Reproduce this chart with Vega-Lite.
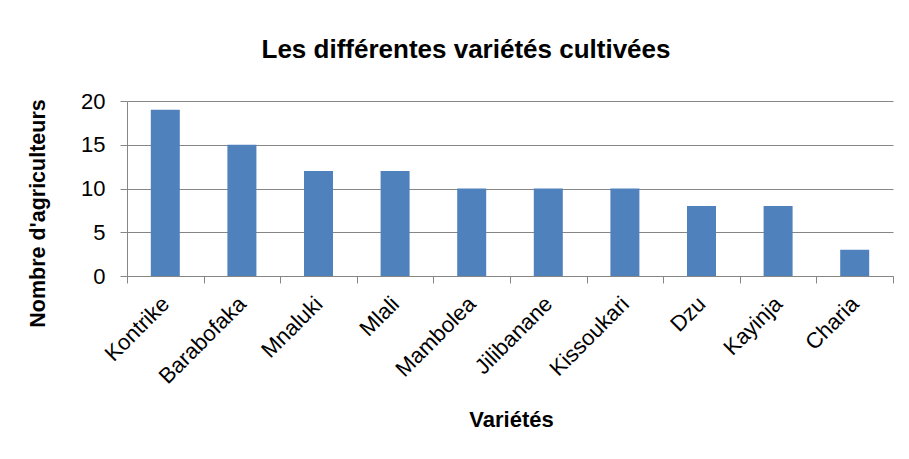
{
  "$schema": "https://vega.github.io/schema/vega-lite/v6.json",
  "width": 766,
  "height": 175,
  "autosize": {"type": "none"},
  "padding": {"left": 127, "top": 101, "right": 16, "bottom": 183},
  "background": "white",
  "title": {
    "text": "Les différentes variétés cultivées",
    "font": "Liberation Sans",
    "fontSize": 26,
    "fontWeight": "bold",
    "color": "#000000",
    "anchor": "middle",
    "frame": "group",
    "dx": -44,
    "baseline": "alphabetic",
    "offset": 6
  },
  "data": {
    "values": [
      {"variete": "Kontrike", "n": 19},
      {"variete": "Barabofaka", "n": 15},
      {"variete": "Mnaluki", "n": 12},
      {"variete": "Mlali", "n": 12},
      {"variete": "Mambolea", "n": 10},
      {"variete": "Jilibanane", "n": 10},
      {"variete": "Kissoukari", "n": 10},
      {"variete": "Dzu", "n": 8},
      {"variete": "Kayinja", "n": 8},
      {"variete": "Charia", "n": 3}
    ]
  },
  "mark": {"type": "bar", "color": "#4F81BD", "size": 29},
  "encoding": {
    "x": {
      "field": "variete",
      "type": "nominal",
      "sort": null,
      "scale": {"paddingInner": 0, "paddingOuter": 0},
      "axis": {
        "title": "Variétés",
        "titleFont": "Liberation Sans",
        "titleFontSize": 22,
        "titleFontWeight": "bold",
        "titleColor": "#000000",
        "titleX": 384,
        "titleY": 150,
        "titleBaseline": "alphabetic",
        "titleAlign": "center",
        "labelAngle": -45,
        "labelAlign": "right",
        "labelBaseline": "middle",
        "labelFont": "Liberation Sans",
        "labelFontSize": 22,
        "labelColor": "#000000",
        "labelPadding": 17,
        "tickBand": "extent",
        "tickSize": 7,
        "tickColor": "#868686",
        "domainColor": "#868686",
        "grid": false
      }
    },
    "y": {
      "field": "n",
      "type": "quantitative",
      "scale": {"domain": [0, 20]},
      "axis": {
        "values": [0, 5, 10, 15, 20],
        "title": "Nombre d'agriculteurs",
        "titleFont": "Liberation Sans",
        "titleFontSize": 21.5,
        "titleFontWeight": "bold",
        "titleColor": "#000000",
        "titleX": -89,
        "titleY": 112,
        "titleAlign": "center",
        "titleBaseline": "middle",
        "labelFont": "Liberation Sans",
        "labelFontSize": 22,
        "labelColor": "#000000",
        "labelPadding": 15,
        "tickSize": 7,
        "tickColor": "#868686",
        "domainColor": "#868686",
        "gridColor": "#868686",
        "grid": true
      }
    }
  },
  "config": {"view": {"stroke": null}}
}
